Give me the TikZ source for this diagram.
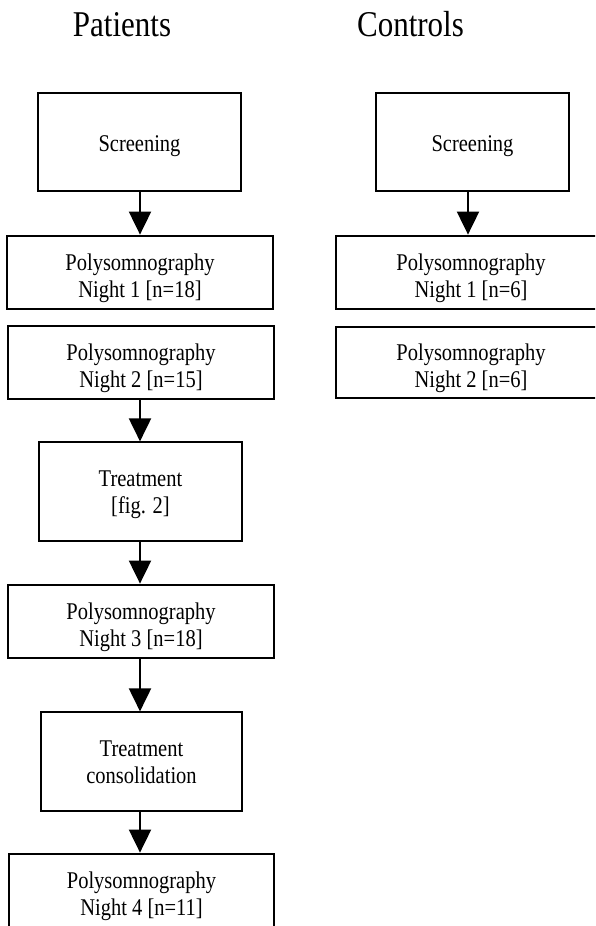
\documentclass[tikz,border=0pt]{standalone}
\usepackage{fontspec}
\usepackage{graphicx}
\setmainfont{Liberation Serif}
\usetikzlibrary{arrows.meta}
\newcommand\boxtext[2]{\raisebox{#1}[\height][\depth]{\scalebox{1}[1.17]{\begin{tabular}{@{}c@{}}#2\end{tabular}}}}
\newcommand\titletext[1]{\scalebox{1}[1.17]{#1}}
\tikzset{
  thinbox/.style={draw=black, line width=1.2pt, inner sep=0pt,
    font=\fontsize{20.5}{23}\selectfont},
  thickbox/.style={thinbox, line width=2.8pt},
  flow/.style={line width=2pt, -{Triangle[width=22pt,length=23pt]}},
  title/.style={anchor=base, inner sep=0pt, font=\fontsize{31}{36}\selectfont}
}
\begin{document}
\begin{tikzpicture}[x=1pt,y=-1pt]
\useasboundingbox (0,0) rectangle (595,926);
\fill[white] (0,0) rectangle (595,926);
\begin{scope}
\clip (0,0) rectangle (595,926);
% titles
\node[title] (tP) at (122,36) {\titletext{Patients}};
\node[title] (tC) at (410.5,36) {\titletext{Controls}};
% patients column
\node[thinbox, minimum width=203pt, minimum height=98pt] (scrP) at (139.5,142) {\boxtext{-4.5pt}{Screening}};
\node[thickbox, minimum width=266pt, minimum height=73pt] (p1P) at (140,272.5) {\boxtext{-6pt}{Polysomnography\\Night 1 [n=18]}};
\node[thickbox, minimum width=266pt, minimum height=73pt] (p2P) at (141,362.5) {\boxtext{-6pt}{Polysomnography\\Night 2 [n=15]}};
\node[thinbox, minimum width=203pt, minimum height=99pt] (trt) at (140.5,491.5) {\boxtext{-3.5pt}{Treatment\\{}[fig. 2]}};
\node[thickbox, minimum width=266pt, minimum height=73pt] (p3P) at (141,621.5) {\boxtext{-6pt}{Polysomnography\\Night 3 [n=18]}};
\node[thinbox, minimum width=201pt, minimum height=99pt] (tc) at (141.5,761.5) {\boxtext{-3pt}{Treatment\\consolidation}};
\node[thickbox, minimum width=265pt, minimum height=73pt] (p4P) at (141.5,890.5) {\boxtext{-6pt}{Polysomnography\\Night 4 [n=11]}};
% controls column
\node[thinbox, minimum width=193pt, minimum height=98pt] (scrC) at (472.5,142) {\boxtext{-4.5pt}{Screening}};
\node[thickbox, minimum width=270pt, minimum height=73pt] (p1C) at (471,272.5) {\boxtext{-6pt}{Polysomnography\\Night 1 [n=6]}};
\node[thickbox, minimum width=270pt, minimum height=71pt] (p2C) at (471,362.5) {\boxtext{-6pt}{Polysomnography\\Night 2 [n=6]}};
% connectors
\draw[flow] (scrP.south -| 140,0) -- (p1P.north -| 140,0);
\draw[flow] (p2P.south -| 140,0) -- (trt.north -| 140,0);
\draw[flow] (trt.south -| 140,0) -- (p3P.north -| 140,0);
\draw[flow] (p3P.south -| 140,0) -- (tc.north -| 140,0);
\draw[flow] (tc.south -| 140,0) -- (p4P.north -| 140,0);
\draw[flow] (scrC.south -| 468,0) -- (p1C.north -| 468,0);
\end{scope}
\end{tikzpicture}
\end{document}
